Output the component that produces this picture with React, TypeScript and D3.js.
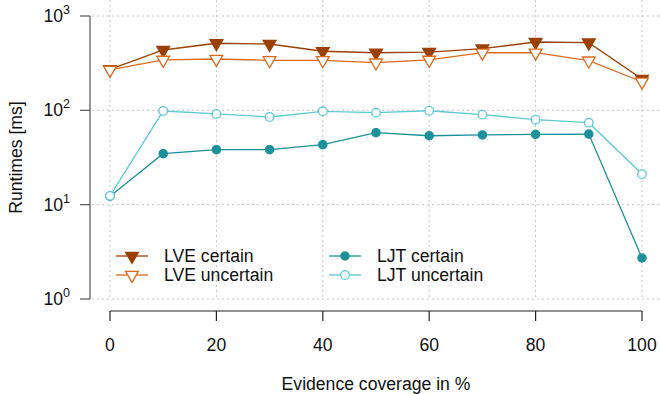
import React from 'react';
import * as d3 from 'd3';

const coverage = [0, 10, 20, 30, 40, 50, 60, 70, 80, 90, 100];
const lveCertain = [272, 436, 514, 505, 423, 408, 415, 450, 530, 521, 215];
const lveUncertain = [268, 342, 350, 339, 339, 320, 342, 408, 408, 336, 201];
const ljtCertain = [12.3, 34.7, 38.3, 38.3, 43.2, 57.9, 53.8, 54.8, 55.7, 56, 2.72];
const ljtUncertain = [12.4, 98.4, 91.5, 85, 97.7, 94.4, 99, 90, 79.6, 74, 21.1];
const xTicks = [0, 20, 40, 60, 80, 100];
const yTicks = [1, 10, 100, 1000];

const series = [
  { name: 'LVE certain', values: lveCertain, color: '#9a4004', shape: 'tri', filled: true },
  { name: 'LVE uncertain', values: lveUncertain, color: '#dd6a1c', shape: 'tri', filled: false },
  { name: 'LJT certain', values: ljtCertain, color: '#1b9199', shape: 'circle', filled: true },
  { name: 'LJT uncertain', values: ljtUncertain, color: '#5ccad3', shape: 'circle', filled: false },
];

const width = 660;
const height = 394;
const font = 'Liberation Sans, Arial, sans-serif';
const fs = 17.6;

function Marker({ x, y, shape, filled, color }: any) {
  if (shape === 'tri') {
    const w = 6.4;
    const h = w * Math.sqrt(3);
    const pts = [
      [x - w, y - h / 3],
      [x + w, y - h / 3],
      [x, y + (2 * h) / 3],
    ];
    return (
      <polygon
        points={pts.map((p) => p.join(',')).join(' ')}
        fill={filled ? color : 'white'}
        stroke={color}
        strokeWidth={1.3}
      />
    );
  }
  return (
    <circle cx={x} cy={y} r={filled ? 4.1 : 4.3} fill={filled ? color : 'white'} stroke={color} strokeWidth={1.3} />
  );
}

export default function App() {
  const x = d3.scaleLinear().domain([0, 100]).range([110, 642]);
  const y = d3.scaleLog().domain([1, 1000]).range([299, 16]);

  const line = d3
    .line<number>()
    .x((_, i) => x(coverage[i]))
    .y((d) => y(d));

  const legend = [
    { s: series[0], lx: 116, ly: 256 },
    { s: series[1], lx: 116, ly: 275 },
    { s: series[2], lx: 329, ly: 256 },
    { s: series[3], lx: 329, ly: 275 },
  ];

  return (
    <svg
      width={width}
      height={height}
      style={{ position: 'absolute', left: 0, top: 0, background: 'white' }}
      fontFamily={font}
    >
      {/* grid */}
      {xTicks.map((t) => (
        <line key={'gx' + t} x1={x(t)} x2={x(t)} y1={0} y2={299} stroke="#c4c4c4" strokeDasharray="2,3" />
      ))}
      {yTicks.map((t) => (
        <line key={'gy' + t} x1={92} x2={660} y1={y(t)} y2={y(t)} stroke="#c4c4c4" strokeDasharray="2,3" />
      ))}

      {/* y axis */}
      <line x1={90} x2={90} y1={y(1000)} y2={y(1)} stroke="#555" strokeWidth={1.2} />
      {yTicks.map((t) => (
        <g key={'yt' + t}>
          <line x1={80} x2={90} y1={y(t)} y2={y(t)} stroke="#555" strokeWidth={1.2} />
          <text x={70} y={y(t) + 6} textAnchor="end" fontSize={fs} fill="#111">
            10
            <tspan fontSize={12.5} dy={-8}>
              {Math.round(Math.log10(t))}
            </tspan>
          </text>
        </g>
      ))}
      <text
        transform={`translate(22,${(y(1000) + y(1)) / 2}) rotate(-90)`}
        textAnchor="middle"
        fontSize={fs}
        fill="#111"
      >
        Runtimes [ms]
      </text>

      {/* x axis */}
      <line x1={x(0)} x2={x(100)} y1={311} y2={311} stroke="#222" strokeWidth={1.2} />
      {xTicks.map((t) => (
        <g key={'xt' + t}>
          <line x1={x(t)} x2={x(t)} y1={311} y2={321} stroke="#222" strokeWidth={1.2} />
          <text x={x(t)} y={351} textAnchor="middle" fontSize={fs} fill="#111">
            {t}
          </text>
        </g>
      ))}
      <text x={(x(0) + x(100)) / 2} y={390} textAnchor="middle" fontSize={fs} fill="#111">
        Evidence coverage in %
      </text>

      {/* series */}
      {series.map((s) => (
        <g key={s.name}>
          <path d={line(s.values) || ''} fill="none" stroke={s.color} strokeWidth={1.3} />
          {s.values.map((v, i) => (
            <Marker key={i} x={x(coverage[i])} y={y(v)} shape={s.shape} filled={s.filled} color={s.color} />
          ))}
        </g>
      ))}

      {/* legend */}
      {legend.map(({ s, lx, ly }) => (
        <g key={'lg' + s.name}>
          <line x1={lx} x2={lx + 32} y1={ly} y2={ly} stroke={s.color} strokeWidth={1.3} />
          <Marker x={lx + 16} y={ly} shape={s.shape} filled={s.filled} color={s.color} />
          <text x={lx + 48} y={ly + 6} fontSize={fs} fill="#111">
            {s.name}
          </text>
        </g>
      ))}
    </svg>
  );
}
